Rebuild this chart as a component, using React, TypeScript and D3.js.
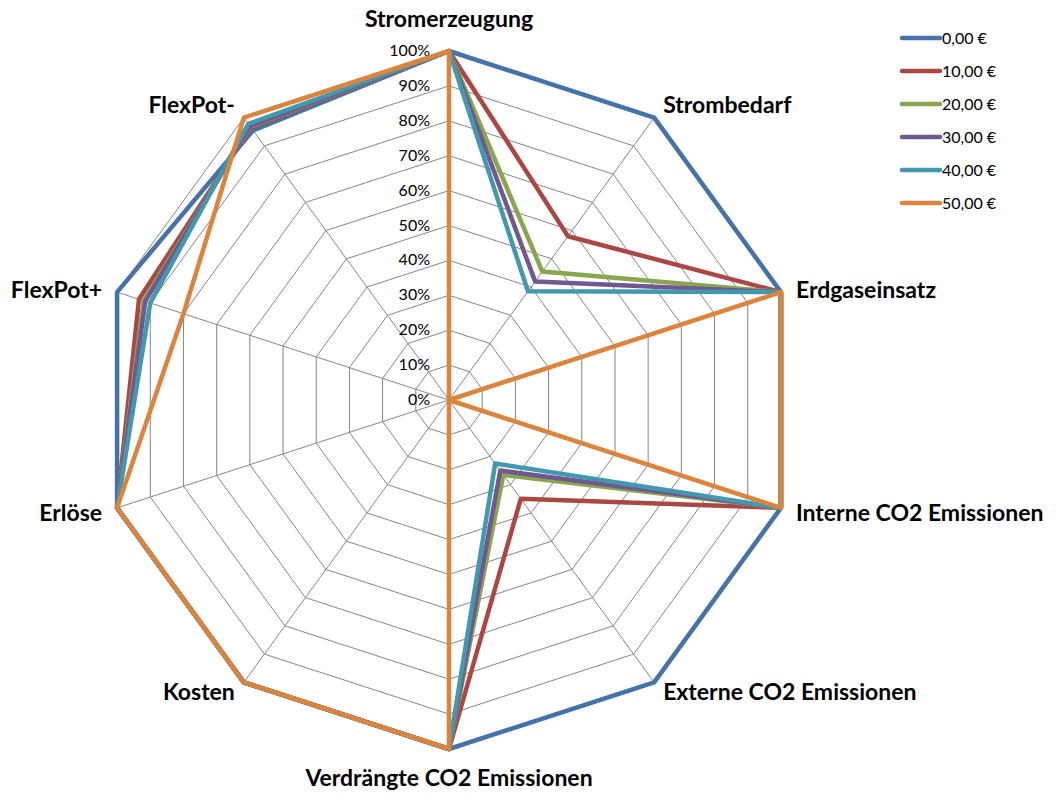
import React from "react";
import * as d3 from "d3";

const categories = [
  "Stromerzeugung",
  "Strombedarf",
  "Erdgaseinsatz",
  "Interne CO2 Emissionen",
  "Externe CO2 Emissionen",
  "Verdrängte CO2 Emissionen",
  "Kosten",
  "Erlöse",
  "FlexPot+",
  "FlexPot-",
];

const seriesNames = ["0,00 €", "10,00 €", "20,00 €", "30,00 €", "40,00 €", "50,00 €"];
const seriesColors = ["#4572A7", "#AA4643", "#89A54E", "#71588F", "#4198AF", "#DB843D"];

const s0 = [1, 1, 1, 1, 1, 1, 1, 1, 1, 0.955];
const s10 = [1, 0.58, 1, 1, 0.35, 1, 1, 1, 0.934, 0.965];
const s20 = [1, 0.455, 1, 1, 0.265, 1, 1, 1, 0.92, 0.968];
const s30 = [1, 0.42, 1, 1, 0.25, 1, 1, 1, 0.915, 0.97];
const s40 = [1, 0.385, 1, 1, 0.225, 1, 1, 1, 0.9, 0.978];
const s50 = [1, 0, 1, 1, 0, 1, 1, 1, 0.8, 1];
const seriesValues = [s0, s10, s20, s30, s40, s50];

const tickValues = [0, 0.1, 0.2, 0.3, 0.4, 0.5, 0.6, 0.7, 0.8, 0.9, 1];
const tickFormat = (v: number) => `${Math.round(v * 100)}%`;

const cx = 449;
const cy = 400;
const R = 349;
const font = "Lato, 'Open Sans', sans-serif";

export default function App() {
  const r = d3.scaleLinear().domain([0, 1]).range([0, R]);
  const n = categories.length;
  const angle = (i: number) => (i * 2 * Math.PI) / n;
  const pt = (i: number, v: number): [number, number] => [
    cx + r(v) * Math.sin(angle(i)),
    cy - r(v) * Math.cos(angle(i)),
  ];
  const line = d3
    .line<number>()
    .x((v, i) => pt(i, v)[0])
    .y((v, i) => pt(i, v)[1])
    .curve(d3.curveLinearClosed);

  const gridLine = (v: number) => line(categories.map(() => v)) as string;

  const labelPos = (i: number) => {
    const [x, y] = pt(i, 1);
    const a = angle(i);
    const s = Math.sin(a);
    const c = Math.cos(a);
    let anchor: "start" | "middle" | "end" = "middle";
    let dx = 0;
    let dy = 0;
    if (Math.abs(s) < 0.01) {
      anchor = "middle";
      dy = c > 0 ? -24 : 37;
    } else {
      anchor = s > 0 ? "start" : "end";
      const far = Math.abs(c) < 0.5;
      dx = (s > 0 ? 1 : -1) * (far ? 15 : 9);
      dy = c > 0.5 ? -5 : c < -0.5 ? 18 : c > 0 ? 6 : 13;
    }
    return { x: x + dx, y: y + dy, anchor };
  };

  return (
    <svg width={1059} height={794} style={{ position: "absolute", left: 0, top: 0 }}>
      <rect width={1059} height={794} fill="#fff" />
      {tickValues.slice(1).map((v) => (
        <path key={v} d={gridLine(v)} fill="none" stroke="#868686" strokeWidth={1} />
      ))}
      {categories.map((c, i) => {
        const [x, y] = pt(i, 1);
        return <line key={c} x1={cx} y1={cy} x2={x} y2={y} stroke="#868686" strokeWidth={1} />;
      })}
      {tickValues.map((v) => (
        <text
          key={v}
          x={cx - 19}
          y={cy - r(v) + 5}
          textAnchor="end"
          fontFamily={font}
          fontSize={16}
          fill="#000"
        >
          {tickFormat(v)}
        </text>
      ))}
      {seriesValues.map((vals, k) => (
        <path
          key={k}
          d={line(vals) as string}
          fill="none"
          stroke={seriesColors[k]}
          strokeWidth={4.5}
          strokeLinejoin="round"
        />
      ))}
      {categories.map((c, i) => {
        const p = labelPos(i);
        return (
          <text
            key={c}
            x={p.x}
            y={p.y}
            textAnchor={p.anchor}
            fontFamily={font}
            fontWeight="bold"
            fontSize={23}
            fill="#000"
          >
            {c}
          </text>
        );
      })}
      {seriesNames.map((name, k) => (
        <g key={name} transform={`translate(902, ${38 + k * 33})`}>
          <line x1={0} y1={0} x2={38} y2={0} stroke={seriesColors[k]} strokeWidth={4.5} strokeLinecap="round" />
          <text x={40} y={6} fontFamily={font} fontSize={16} fill="#000">
            {name}
          </text>
        </g>
      ))}
    </svg>
  );
}
